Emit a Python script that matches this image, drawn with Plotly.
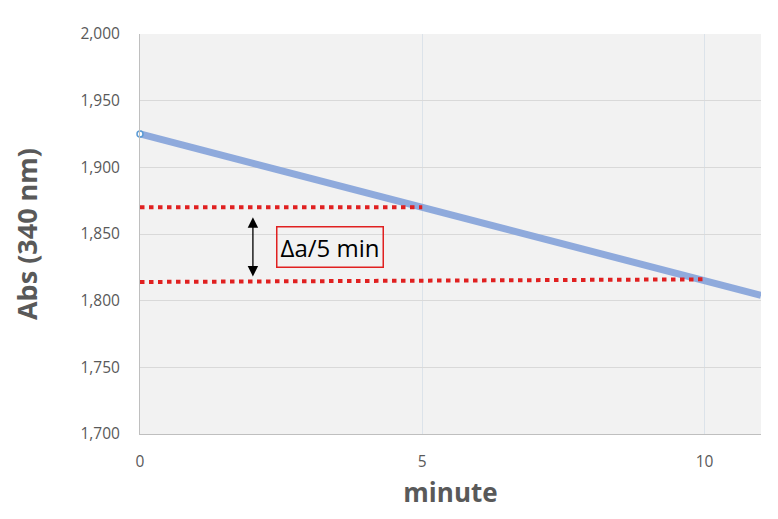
import plotly.graph_objects as go

# data
line_x = [0, 11]
line_y = [1925, 1804]
upper_x = [0, 5]
upper_y = [1870, 1870]
lower_x = [0, 10]
lower_y = [1814, 1816]
marker_x = [0]
marker_y = [1925]
arrow_x = 2
arrow_y0, arrow_y1 = 1817, 1862.5
label_x, label_y = 3.36, 1840
label_text = "Δa/5 min"
y_ticks = [1700, 1750, 1800, 1850, 1900, 1950, 2000]
x_ticks = [0, 5, 10]

FONT = "Open Sans"
GRAY = "#595959"

fig = go.Figure()
fig.add_trace(go.Scatter(x=line_x, y=line_y, mode="lines",
                         line=dict(color="#8FAADC", width=7), hoverinfo="skip"))
fig.add_trace(go.Scatter(x=upper_x, y=upper_y, mode="lines",
                         line=dict(color="#E02020", width=4, dash="4.5px,4.5px")))
fig.add_trace(go.Scatter(x=lower_x, y=lower_y, mode="lines",
                         line=dict(color="#E02020", width=4, dash="4.5px,4.5px")))
fig.add_trace(go.Scatter(x=marker_x, y=marker_y, mode="markers",
                         marker=dict(size=6, color="white",
                                     line=dict(color="#5B9BD5", width=1.5)),
                         cliponaxis=False))

fig.add_annotation(x=arrow_x, y=arrow_y1, ax=arrow_x, ay=arrow_y0,
                   xref="x", yref="y", axref="x", ayref="y",
                   text="", showarrow=True, arrowhead=2, startarrowhead=2,
                   arrowside="end+start", arrowsize=1.6, arrowwidth=1.3,
                   arrowcolor="black", startarrowsize=1.6)
fig.add_annotation(x=label_x, y=label_y, xref="x", yref="y",
                   text=label_text, showarrow=False,
                   font=dict(family=FONT, size=24, color="black"),
                   bordercolor="#E02020", borderwidth=1.5, borderpad=3,
                   bgcolor="rgba(0,0,0,0)")

fig.update_layout(
    width=778, height=519,
    margin=dict(l=140, r=17, t=34, b=85),
    paper_bgcolor="white", plot_bgcolor="#F2F2F2",
    showlegend=False,
    font=dict(family=FONT, color=GRAY),
)
fig.update_xaxes(range=[0, 11], tickvals=x_ticks, showgrid=True,
                 gridcolor="#DCE3EA", gridwidth=1, zeroline=False,
                 showline=True, linecolor="#BFBFBF", linewidth=1,
                 tickfont=dict(size=15.5, color=GRAY), ticks="",
                 ticklabelstandoff=13,
                 title=dict(text="<b>minute</b>", font=dict(size=26, color=GRAY),
                            standoff=13))
fig.update_yaxes(range=[1700, 2000], tickvals=y_ticks, tickformat=",d",
                 showgrid=True, gridcolor="#D9D9D9", gridwidth=1, zeroline=False,
                 showline=True, linecolor="#BFBFBF", linewidth=1,
                 tickfont=dict(size=15.5, color=GRAY), ticks="",
                 ticklabelstandoff=16,
                 title=dict(text="<b>Abs (340 nm)</b>", font=dict(size=27, color=GRAY),
                            standoff=34))

fig.write_html("out.html", config={"displayModeBar": False},
               post_script="document.body.style.margin='0';")
